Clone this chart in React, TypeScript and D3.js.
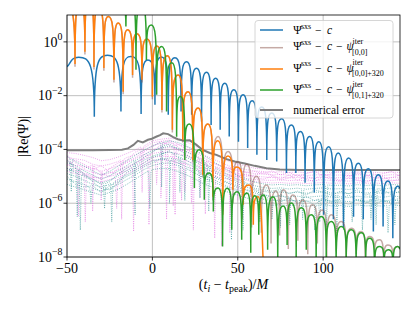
import React from "react";
import * as d3 from "d3";

// ---------- data (times in M, values as log10 |Re(Psi)|) ----------
const xTickValues = [-50, 0, 50, 100];
const yTickExponents = [0, -2, -4, -6, -8];

// Psi^sxs - c  (start, then alternating peak / dip, end)
const blueT = [-50, -43.2, -34.0, -26.3, -18.4, -12.6, -6.6, -2.6, 1.5, 5.3, 9.3, 13.2, 16.8, 20.0, 23.0, 25.8, 28.8, 31.7, 34.4, 37.0, 39.7, 42.4, 45.0, 47.7, 50.4, 53.1, 55.8, 58.4, 61.2, 64.0, 67.0, 69.9, 72.8, 75.7, 78.5, 81.4, 84.0, 86.7, 89.4, 92.1, 94.8, 97.5, 100.3, 103.2, 106.0, 108.8, 111.9, 114.9, 117.8, 120.6, 123.5, 126.5, 129.4, 132.3, 135.1, 137.9, 140.8, 143.7, 145];
const blueE = [-0.92, -0.57, -2.78, -0.5, -2.59, -0.54, -2.68, -0.67, -2.34, -0.56, -2.71, -0.59, -2.59, -0.74, -2.71, -0.98, -2.96, -1.13, -3.09, -1.35, -3.27, -1.54, -3.52, -1.78, -3.71, -1.97, -3.95, -2.19, -4.2, -2.42, -4.39, -2.64, -4.45, -2.86, -4.88, -3.09, -4.88, -3.33, -5.24, -3.52, -5.6, -3.71, -6.43, -3.9, -6.6, -4.13, -6.9, -4.32, -6.5, -4.51, -6.6, -4.72, -7.05, -4.94, -6.87, -5.17, -7.3, -5.37, -5.45];

// Psi^sxs - c - psi_[0,0]+320  (start, then alternating dip / peak)
const orangeT = [-47.5, -45.3, -42.4, -39.5, -37.0, -34.2, -31.7, -28.4, -25.8, -22.5, -20.0, -17.1, -14.6, -11.6, -9.1, -6.1, -3.2, 0.0, 2.6, 5.6, 8.8, 11.7, 15.1, 17.8, 20.9, 23.7, 26.8, 29.5, 32.5, 35.4, 38.3, 41.2, 44.2, 47.1, 49.4, 53.2, 56.4, 59.1, 61.9, 65.5];
const orangeE = [1.5, -0.82, 1.38, -0.37, 1.56, -0.93, 1.26, -0.97, 0.94, -1.41, 0.7, -1.85, 0.45, -1.23, 0.3, -1.41, 0.11, -2.04, -0.15, -2.53, -0.52, -3.27, -1.23, -3.64, -1.85, -4.39, -2.46, -4.94, -3.05, -5.76, -3.68, -6.43, -4.24, -5.5, -4.65, -6.06, -5.32, -6.8, -5.76, -9];

// Psi^sxs - c - psi_[0,0]  (start, then alternating dip / peak)
const brownT = [-47.5, -45.3, -42.4, -39.5, -37.0, -34.2, -31.7, -28.4, -25.8, -22.5, -20.0, -17.1, -14.6, -11.6, -9.1, -6.1, -3.2, 0.0, 2.6, 5.6, 8.8, 11.7, 15.1, 17.8, 20.9, 23.7, 26.8, 29.5, 32.5, 35.4, 38.5, 41.3, 44.3, 47.2, 50.2, 52.7, 55.3, 58.1, 60.9, 63.8, 66.8, 69.5, 72.2, 74.5, 76.9, 79.6, 82.3, 85.2, 88.2, 91.0, 93.7, 96.6, 99.5, 102.1, 104.8, 107.7, 110.6, 113.5, 116.5, 119.4, 122.3, 124.7, 127.2, 130.1, 133.0, 135.4, 137.9, 140.8, 143.7, 145];
const brownE = [1.5, -0.92, 1.38, -0.47, 1.56, -1.03, 1.26, -1.07, 0.94, -1.51, 0.7, -1.95, 0.45, -1.33, 0.3, -1.51, 0.11, -2.13, -0.15, -2.63, -0.52, -3.37, -1.23, -3.74, -1.85, -4.49, -2.46, -5.04, -3.05, -5.9, -3.52, -6.3, -4.08, -6.0, -4.45, -6.6, -4.55, -6.9, -5.0, -7.1, -5.32, -7.5, -5.55, -7.2, -5.5, -7.7, -5.69, -7.4, -5.88, -7.9, -6.06, -7.5, -6.25, -8.1, -6.43, -7.8, -6.68, -8.3, -6.93, -7.9, -7.05, -8.3, -7.24, -8.0, -7.36, -8.4, -7.55, -8.1, -7.61, -7.7];

// Psi^sxs - c - psi_[0,1]+320  (start, then alternating dip / peak)
const greenT = [-18.5, -15.5, -12.6, -9.6, -6.7, -3.5, -0.6, 2.5, 5.4, 8.3, 11.4, 14.2, 16.4, 19.0, 21.6, 24.6, 27.4, 30.4, 33.2, 35.7, 38.5, 41.1, 43.7, 46.5, 49.6, 52.3, 55.4, 57.6, 59.9, 62.3, 64.9, 67.5, 70.6, 73.4, 76.5, 78.9, 81.4, 84.2, 87.2, 90.1, 93.1, 95.9, 98.9, 101.8, 104.8, 107.6, 110.6, 113.5, 116.5, 119.3, 122.3, 124.9, 127.2, 130.1, 133.0, 135.7, 138.3, 140.9, 143.7, 145];
const greenE = [1.6, 0.57, 1.56, -1.04, 1.38, -0.67, 0.63, -1.97, -0.17, -2.59, -0.78, -3.53, -2.03, -4.39, -3.05, -5.43, -4.01, -5.87, -4.88, -6.31, -5.43, -7.61, -5.44, -6.99, -5.57, -7.36, -5.62, -7.84, -5.72, -7.17, -5.69, -7.73, -5.76, -8.29, -6.1, -7.55, -5.99, -8.1, -6.17, -7.73, -6.43, -8.18, -6.49, -8.03, -6.68, -8.29, -6.87, -8.18, -6.99, -8.29, -7.1, -8.18, -7.3, -8.48, -7.61, -8.29, -7.73, -8.48, -7.61, -7.7];

// numerical error
const errT = [-50, -35, -25, -17.8, -14.3, -11.1, -8.5, -5.6, -2.6, -0.3, 2.5, 4.5, 6.3, 9.2, 12.2, 14.9, 18.0, 21.9, 25.8, 29.5, 33.6, 37.5, 43.4, 48.2, 54.1, 59.9, 66.8, 74.6, 86.3, 100, 120, 145];
const errE = [-4.03, -4.03, -4.02, -4.01, -3.96, -3.83, -3.68, -3.74, -3.64, -3.6, -3.52, -3.47, -3.4, -3.43, -3.54, -3.62, -3.67, -3.66, -3.83, -4.02, -4.13, -4.2, -4.36, -4.45, -4.52, -4.61, -4.7, -4.75, -4.76, -4.76, -4.76, -4.76];

// dotted families (sampled every 5 M)
const dotT = [-50, -45, -40, -35, -30, -25, -20, -15, -10, -5, 0, 5, 10, 15, 20, 25, 30, 35, 40, 45, 50, 55, 60, 65, 70, 75, 80, 85, 90, 95, 100, 105, 110, 115, 120, 125, 130, 135, 140, 145];

const pink0 = [-4.12, -4.15, -4.22, -4.3, -4.42, -4.38, -4.28, -4.15, -4.02, -3.88, -3.68, -3.62, -3.58, -3.62, -3.72, -3.88, -4.02, -4.15, -4.3, -4.45, -4.55, -4.62, -4.7, -4.72, -4.75, -4.74, -4.76, -4.75, -4.77, -4.75, -4.76, -4.78, -4.75, -4.77, -4.76, -4.78, -4.76, -4.77, -4.75, -4.76];
const pink1 = [-4.3, -4.35, -4.4, -4.55, -4.62, -4.55, -4.45, -4.3, -4.2, -4.05, -3.85, -3.78, -3.75, -3.82, -3.9, -4.05, -4.2, -4.35, -4.48, -4.6, -4.68, -4.75, -4.8, -4.82, -4.85, -4.83, -4.86, -4.84, -4.87, -4.85, -4.83, -4.86, -4.85, -4.88, -4.84, -4.86, -4.85, -4.87, -4.84, -4.86];
const pink2 = [-4.45, -4.6, -4.62, -4.7, -4.8, -4.72, -4.6, -4.5, -4.35, -4.2, -4.0, -3.95, -3.92, -4.0, -4.1, -4.22, -4.4, -4.5, -4.62, -4.72, -4.8, -4.85, -4.9, -4.92, -4.95, -4.93, -4.96, -4.94, -4.97, -4.95, -4.93, -4.96, -4.95, -4.98, -4.94, -4.96, -4.95, -4.97, -4.94, -4.96];
const pink3 = [-4.55, -4.7, -4.75, -4.85, -4.95, -4.88, -4.75, -4.65, -4.5, -4.35, -4.15, -4.1, -4.1, -4.15, -4.25, -4.4, -4.55, -4.65, -4.75, -4.85, -4.9, -4.95, -5.0, -5.02, -5.05, -5.03, -5.06, -5.04, -5.07, -5.05, -5.03, -5.06, -5.05, -5.08, -5.04, -5.06, -5.05, -5.07, -5.04, -5.06];
const pink4 = [-4.7, -4.8, -4.88, -5.0, -5.1, -5.0, -4.92, -4.8, -4.65, -4.5, -4.3, -4.25, -4.25, -4.35, -4.42, -4.55, -4.7, -4.82, -4.92, -5.0, -5.02, -5.08, -5.12, -5.14, -5.15, -5.13, -5.16, -5.14, -5.17, -5.15, -5.13, -5.16, -5.15, -5.18, -5.14, -5.16, -5.15, -5.17, -5.14, -5.16];
const pink5 = [-4.8, -4.9, -4.95, -5.1, -5.2, -5.12, -5.05, -4.9, -4.75, -4.6, -4.4, -4.38, -4.4, -4.5, -4.55, -4.7, -4.85, -4.95, -5.05, -5.1, -5.1, -5.15, -5.2, -5.22, -5.25, -5.23, -5.26, -5.24, -5.27, -5.25, -5.23, -5.26, -5.25, -5.28, -5.24, -5.26, -5.25, -5.27, -5.24, -5.26];
const pink6 = [-4.2, -4.5, -4.7, -4.6, -4.9, -5.0, -4.7, -4.45, -4.3, -4.1, -3.9, -3.7, -3.65, -3.8, -4.0, -4.1, -4.3, -4.5, -4.6, -4.7, -4.75, -4.85, -4.82, -4.9, -4.8, -4.95, -4.85, -5.0, -4.9, -4.8, -5.0, -4.9, -4.78, -5.0, -4.88, -4.95, -5.05, -4.9, -4.82, -5.0];
const pink7 = [-4.6, -4.4, -4.55, -4.75, -4.6, -4.85, -4.9, -4.7, -4.55, -4.3, -4.1, -3.85, -3.7, -3.9, -4.2, -4.35, -4.5, -4.7, -4.85, -4.95, -5.0, -4.92, -5.05, -5.1, -5.0, -5.15, -5.05, -4.95, -5.1, -5.2, -5.0, -5.12, -5.2, -5.05, -5.15, -5.22, -5.1, -5.0, -5.18, -5.1];
const pink8 = [-4.35, -4.65, -4.9, -5.05, -5.05, -4.7, -4.5, -4.4, -4.1, -3.95, -3.75, -3.7, -3.85, -4.05, -4.0, -4.2, -4.4, -4.6, -4.7, -4.8, -4.95, -5.0, -4.95, -4.85, -4.95, -5.1, -4.95, -5.15, -5.0, -5.1, -4.9, -5.05, -5.15, -4.95, -5.1, -5.0, -4.9, -5.1, -5.05, -4.95];

const teal0 = [-4.25, -4.45, -4.62, -4.8, -4.95, -4.82, -4.62, -4.42, -4.22, -4.02, -3.88, -3.75, -3.68, -3.74, -3.88, -4.02, -4.22, -4.42, -4.62, -4.8, -4.98, -5.1, -5.22, -5.28, -5.32, -5.3, -5.33, -5.31, -5.35, -5.32, -5.3, -5.34, -5.33, -5.36, -5.31, -5.34, -5.32, -5.35, -5.3, -5.33];
const teal1 = [-4.5, -4.6, -4.8, -4.95, -5.1, -4.98, -4.8, -4.6, -4.4, -4.2, -4.05, -3.95, -3.88, -3.95, -4.08, -4.25, -4.45, -4.62, -4.8, -4.95, -5.12, -5.25, -5.35, -5.42, -5.45, -5.43, -5.47, -5.44, -5.48, -5.45, -5.43, -5.47, -5.46, -5.49, -5.44, -5.47, -5.45, -5.48, -5.43, -5.46];
const teal2 = [-4.7, -4.85, -5.0, -5.15, -5.25, -5.15, -4.98, -4.78, -4.6, -4.4, -4.25, -4.15, -4.1, -4.18, -4.3, -4.45, -4.65, -4.82, -4.98, -5.12, -5.28, -5.4, -5.5, -5.56, -5.6, -5.58, -5.62, -5.59, -5.63, -5.6, -5.58, -5.62, -5.61, -5.64, -5.59, -5.62, -5.6, -5.63, -5.58, -5.61];
const teal3 = [-4.9, -5.0, -5.15, -5.3, -5.4, -5.3, -5.12, -4.95, -4.78, -4.58, -4.42, -4.35, -4.32, -4.4, -4.52, -4.65, -4.85, -5.0, -5.15, -5.28, -5.42, -5.52, -5.62, -5.7, -5.75, -5.73, -5.76, -5.74, -5.78, -5.75, -5.73, -5.77, -5.76, -5.79, -5.74, -5.77, -5.75, -5.78, -5.73, -5.76];
const teal4 = [-5.1, -5.2, -5.3, -5.45, -5.55, -5.45, -5.3, -5.12, -4.95, -4.75, -4.6, -4.52, -4.5, -4.6, -4.72, -4.88, -5.05, -5.2, -5.32, -5.45, -5.55, -5.65, -5.75, -5.85, -5.9, -5.88, -5.92, -5.89, -5.93, -5.9, -5.88, -5.92, -5.91, -5.94, -5.89, -5.92, -5.9, -5.93, -5.88, -5.91];
const teal5 = [-5.3, -5.4, -5.5, -5.6, -5.7, -5.6, -5.48, -5.3, -5.1, -4.9, -4.75, -4.7, -4.72, -4.82, -4.95, -5.1, -5.28, -5.4, -5.5, -5.6, -5.7, -5.8, -5.9, -6.0, -6.08, -6.05, -6.1, -6.06, -6.12, -6.08, -6.05, -6.1, -6.08, -6.12, -6.06, -6.1, -6.08, -6.11, -6.05, -6.09];
const teal6 = [-4.4, -4.7, -4.95, -5.1, -5.3, -5.2, -4.9, -4.7, -4.5, -4.3, -4.1, -3.9, -3.8, -4.0, -4.2, -4.4, -4.55, -4.75, -4.9, -5.05, -5.2, -5.3, -5.45, -5.5, -5.55, -5.5, -5.65, -5.55, -5.7, -5.5, -5.6, -5.7, -5.55, -5.65, -5.5, -5.7, -5.6, -5.5, -5.68, -5.55];
const teal7 = [-4.8, -4.7, -4.9, -5.2, -5.45, -5.5, -5.25, -4.85, -4.7, -4.5, -4.3, -4.2, -4.05, -4.3, -4.4, -4.6, -4.75, -4.95, -5.1, -5.25, -5.35, -5.5, -5.55, -5.65, -5.8, -5.7, -5.85, -5.95, -5.75, -5.9, -5.8, -5.95, -5.85, -5.7, -5.9, -6.0, -5.8, -5.9, -5.95, -5.8];
const teal8 = [-5.0, -5.3, -5.4, -5.35, -5.6, -5.35, -5.2, -5.0, -4.85, -4.65, -4.5, -4.35, -4.4, -4.5, -4.65, -4.75, -4.95, -5.1, -5.25, -5.4, -5.5, -5.6, -5.7, -5.75, -5.85, -5.95, -5.8, -6.0, -5.9, -6.05, -5.85, -6.0, -5.95, -6.05, -5.85, -5.95, -6.05, -5.9, -6.0, -5.95];

const pinkSpikeSeries = [3, 4, 2, 5, 1, 4, 0, 5, 2, 3, 1, 4, 0, 5, 2, 3, 4, 1, 5, 0, 6, 7, 8, 6, 7];
const pinkSpikeT = [-43.4, -39.3, -30, -20.9, -18.0, -11.0, -6, 2.5, 8.3, 12.2, 13.3, 17.1, 19.0, 22.9, 28, 36.5, 40.5, 45.3, 58.0, 50, -35, -2, 31, 24, 5];
const pinkSpikeE = [-6.5, -6.7, -5.9, -6.2, -6.6, -7.05, -5.6, -5.3, -6.6, -6.1, -6.43, -5.9, -5.6, -6.0, -5.8, -7.3, -7.6, -7.1, -6.7, -5.9, -6.3, -6.8, -6.4, -7.0, -5.8];

const tealSpikeSeries = [2, 0, 4, 3, 1, 5, 0, 2, 4, 3, 1, 5, 0, 2, 4, 3, 1, 5, 0, 2, 4, 3, 1, 5, 6, 7, 8, 6, 7, 8, 6, 8];
const tealSpikeT = [-42.2, -47.5, -36, -23.8, -10.1, -1.5, 5.4, 16.1, 19.0, 27.8, 33, 46.3, 53.1, 62.9, 70, 80.4, 88, 95, 102, 108, 117, 123, 131, 138, -28, -44, 10, 75, 98, 112, 128, 142];
const tealSpikeE = [-7.0, -5.57, -6.0, -6.7, -6.43, -6.2, -5.4, -5.6, -5.9, -5.8, -6.3, -7.36, -7.0, -6.7, -6.6, -6.8, -6.6, -7.0, -6.9, -7.1, -6.7, -7.0, -6.8, -7.1, -6.2, -6.5, -6.0, -6.9, -6.7, -7.0, -6.6, -6.8];

// ---------- layout ----------
const W = 415;
const H = 311;
const L = 67;
const R = 400;
const T = 15;
const B = 257;
const FONT = "'Liberation Serif', 'DejaVu Serif', serif";

const x = d3.scaleLinear().domain([-50, 145]).range([L, R]);
const y = d3.scaleLog().domain([1e-8, 10]).range([B, T]);
const yE = (e: number) => y(Math.pow(10, e));

function archPath(ts: number[], es: number[], firstInterior: "P" | "D"): string {
  const n = ts.length;
  const other = firstInterior === "P" ? "D" : "P";
  const kind = (i: number) =>
    i === 0 || i === n - 1 ? "S" : (i - 1) % 2 === 0 ? firstInterior : other;
  const px = ts.map((t) => x(t));
  const py = es.map((e) => yE(e));
  const p = d3.path();
  p.moveTo(px[0], py[0]);
  for (let i = 0; i < n - 1; i++) {
    const x0 = px[i], y0 = py[i], x1 = px[i + 1], y1 = py[i + 1];
    const dx = x1 - x0, dy = y1 - y0;
    const ka = kind(i), kb = kind(i + 1);
    let c1x, c1y, c2x, c2y;
    if (ka === "D") { c1x = x0; c1y = y0 + 0.9 * dy; }
    else if (ka === "P") { c1x = x0 + 0.7 * dx; c1y = y0; }
    else { c1x = x0 + dx / 3; c1y = y0 + dy / 3; }
    if (kb === "D") { c2x = x1; c2y = y1 - 0.9 * dy; }
    else if (kb === "P") { c2x = x1 - 0.7 * dx; c2y = y1; }
    else { c2x = x1 - dx / 3; c2y = y1 - dy / 3; }
    p.bezierCurveTo(c1x, c1y, c2x, c2y, x1, y1);
  }
  return p.toString();
}

function dottedPath(vals: number[], idx: number, sSeries: number[], sT: number[], sE: number[]): string {
  const pts: [number, number][] = dotT.map((t, i) => [t, vals[i]]);
  sSeries.forEach((s, k) => {
    if (s !== idx) return;
    const st = sT[k];
    const j = d3.bisectLeft(dotT, st);
    const i0 = Math.max(0, j - 1);
    const i1 = Math.min(dotT.length - 1, j);
    const f = i1 === i0 ? 0 : (st - dotT[i0]) / (dotT[i1] - dotT[i0]);
    const base = vals[i0] + f * (vals[i1] - vals[i0]);
    pts.push([st - 0.7, base], [st, sE[k]], [st + 0.7, base]);
  });
  pts.sort((a, b) => a[0] - b[0]);
  const line = d3.line<[number, number]>().x((d) => x(d[0])).y((d) => yE(d[1]));
  return line(pts) || "";
}

const errLine = d3.line<number>().x((_, i) => x(errT[i])).y((e) => yE(e));

const pinkSeries = [pink0, pink1, pink2, pink3, pink4, pink5, pink6, pink7, pink8];
const tealSeries = [teal0, teal1, teal2, teal3, teal4, teal5, teal6, teal7, teal8];

const C_BLUE = "#1f77b4";
const C_ORANGE = "#ff7f0e";
const C_GREEN = "#2ca02c";
const C_BROWN = "#8c564b";
const C_GREY = "#7f7f7f";

function LegendMath({ yb, sub }: { yb: number; sub?: string }) {
  return (
    <g fontFamily={FONT}>
      <text x={293.3} y={yb} fontSize={11.5}>Ψ</text>
      <text x={301} y={yb - 5.5} fontSize={8}>sxs</text>
      <text x={315} y={yb} fontSize={11.5}>−</text>
      <text x={327} y={yb} fontSize={11.5} fontStyle="italic">c</text>
      {sub !== undefined && (
        <>
          <text x={336} y={yb} fontSize={11.5}>−</text>
          <text x={346.5} y={yb} fontSize={11.5} fontStyle="italic">ψ</text>
          <text x={352.5} y={yb - 6.5} fontSize={8}>iter</text>
          <text x={352} y={yb + 4.5} fontSize={8}>{sub}</text>
        </>
      )}
    </g>
  );
}

export default function App() {
  const legendRows = [
    { y: 30, color: C_BLUE, opacity: 1, w: 1.5 },
    { y: 47.7, color: C_BROWN, opacity: 0.5, w: 1.5 },
    { y: 69, color: C_ORANGE, opacity: 1, w: 1.5 },
    { y: 90, color: C_GREEN, opacity: 1, w: 1.5 },
    { y: 110, color: C_GREY, opacity: 1, w: 2 },
  ];
  return (
    <svg
      width={W}
      height={H}
      style={{ position: "absolute", left: 0, top: 0, background: "#fff" }}
      fontFamily={FONT}
    >
      <defs>
        <clipPath id="plotclip">
          <rect x={L} y={T} width={R - L} height={B - T} />
        </clipPath>
      </defs>

      {/* grid */}
      <g stroke="#b0b0b0" strokeWidth={0.8}>
        {xTickValues.map((v) => (
          <line key={"gx" + v} x1={x(v)} x2={x(v)} y1={T} y2={B} />
        ))}
        {yTickExponents.map((e) => (
          <line key={"gy" + e} x1={L} x2={R} y1={yE(e)} y2={yE(e)} />
        ))}
      </g>

      <g clipPath="url(#plotclip)" fill="none">
        {pinkSeries.map((s, i) => (
          <path key={"pk" + i} d={dottedPath(s, i, pinkSpikeSeries, pinkSpikeT, pinkSpikeE)}
            stroke="#e070e0" strokeOpacity={0.75} strokeWidth={0.9} strokeDasharray="0.9,1.3" />
        ))}
        {tealSeries.map((s, i) => (
          <path key={"tl" + i} d={dottedPath(s, i, tealSpikeSeries, tealSpikeT, tealSpikeE)}
            stroke="#2a9090" strokeOpacity={0.7} strokeWidth={0.9} strokeDasharray="0.9,1.3" />
        ))}
        <path d={errLine(errE) || ""} stroke={C_GREY} strokeWidth={2} />
        <path d={archPath(blueT, blueE, "P")} stroke={C_BLUE} strokeWidth={1.5} />
        <path d={archPath(brownT, brownE, "D")} stroke={C_BROWN} strokeOpacity={0.5} strokeWidth={1.5} />
        <path d={archPath(orangeT, orangeE, "D")} stroke={C_ORANGE} strokeWidth={1.5} />
        <path d={archPath(greenT, greenE, "D")} stroke={C_GREEN} strokeWidth={1.5} />
      </g>

      {/* spines */}
      <rect x={L} y={T} width={R - L} height={B - T} fill="none" stroke="#000" strokeWidth={0.8} />

      {/* x ticks */}
      {xTickValues.map((v) => (
        <g key={"xt" + v}>
          <line x1={x(v)} x2={x(v)} y1={B} y2={B + 3.5} stroke="#000" strokeWidth={0.8} />
          <text x={x(v)} y={273} fontSize={14} textAnchor="middle">
            {v < 0 ? "−" + Math.abs(v) : String(v)}
          </text>
        </g>
      ))}

      {/* y ticks */}
      {yTickExponents.map((e) => (
        <g key={"yt" + e}>
          <line x1={L - 3.5} x2={L} y1={yE(e)} y2={yE(e)} stroke="#000" strokeWidth={0.8} />
          <text x={62.5} y={yE(e) + 4.7} fontSize={14} textAnchor="end">
            10
            <tspan dy={-6.5} fontSize={9.8}>{e === 0 ? "0" : "−" + Math.abs(e)}</tspan>
          </text>
        </g>
      ))}

      {/* axis labels */}
      <text transform="translate(28,136.5) rotate(-90)" fontSize={14} textAnchor="middle">
        |Re(Ψ)|
      </text>
      <text x={233.5} y={289} fontSize={14} textAnchor="middle">
        (<tspan fontStyle="italic">t</tspan>
        <tspan dy={3} fontSize={10} fontStyle="italic">i</tspan>
        <tspan dy={-3}> − </tspan>
        <tspan fontStyle="italic">t</tspan>
        <tspan dy={3} fontSize={10}>peak</tspan>
        <tspan dy={-3}>)/</tspan>
        <tspan fontStyle="italic">M</tspan>
      </text>

      {/* legend */}
      <rect x={255} y={20.5} width={138} height={97.5} rx={3} ry={3}
        fill="#fff" fillOpacity={0.8} stroke="#cccccc" strokeWidth={0.8} />
      {legendRows.map((r, i) => (
        <line key={"lg" + i} x1={260} x2={283} y1={r.y} y2={r.y}
          stroke={r.color} strokeOpacity={r.opacity} strokeWidth={r.w} />
      ))}
      <LegendMath yb={34} />
      <LegendMath yb={50} sub="[0,0]" />
      <LegendMath yb={71.7} sub="[0,0]+320" />
      <LegendMath yb={93.3} sub="[0,1]+320" />
      <text x={293.3} y={114} fontSize={11.5}>numerical error</text>
    </svg>
  );
}
